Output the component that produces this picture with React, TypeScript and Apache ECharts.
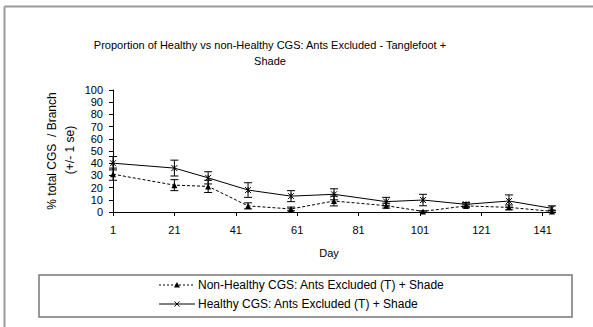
import React, { useEffect, useRef } from "react";
import * as echarts from "echarts";

const days = [1, 21, 32, 45, 59, 73, 90, 102, 116, 130, 144];
const healthy = [40, 36, 28, 18, 13, 14.5, 8.5, 9.8, 6.3, 9, 3];
const healthySe = [5.5, 6.5, 5, 6, 4.5, 4.5, 3.5, 4.7, 1.5, 5, 2];
const nonHealthy = [31, 22, 21, 5, 2.5, 9, 5.2, 0.5, 5, 3.8, 0.5];
const nonHealthySe = [5, 4.5, 5, 2.5, 1.5, 4, 2, 0.5, 1.5, 2, 1];
const xTicks = [1, 21, 41, 61, 81, 101, 121, 141];

const titleText = "Proportion of Healthy vs non-Healthy CGS: Ants Excluded - Tanglefoot +\nShade";
const yName1 = "% total CGS  / Branch";
const yName2 = "(+/- 1 se)";
const xName = "Day";
const legendNon = "Non-Healthy CGS: Ants Excluded (T) + Shade";
const legendHealthy = "Healthy CGS: Ants Excluded (T) + Shade";

const FONT = "Liberation Sans, Arial, sans-serif";
const STAR = "path://M0,0L10,10M10,0L0,10M5,0L5,10";

function errorSeries(vals: number[], se: number[]) {
  return {
    type: "custom",
    silent: true,
    z: 3,
    data: days.map((d, i) => [d, vals[i] - se[i], vals[i] + se[i]]),
    renderItem: (params: any, api: any) => {
      const x = api.value(0);
      const lo = api.coord([x, api.value(1)]);
      const hi = api.coord([x, api.value(2)]);
      const w = 4;
      const st = { stroke: "#000", lineWidth: 1 };
      return {
        type: "group",
        children: [
          { type: "line", shape: { x1: lo[0], y1: lo[1], x2: hi[0], y2: hi[1] }, style: st },
          { type: "line", shape: { x1: lo[0] - w, y1: lo[1], x2: lo[0] + w, y2: lo[1] }, style: st },
          { type: "line", shape: { x1: hi[0] - w, y1: hi[1], x2: hi[0] + w, y2: hi[1] }, style: st },
        ],
      };
    },
  };
}

export default function App() {
  const ref = useRef<HTMLDivElement>(null);
  useEffect(() => {
    if (!ref.current) return;
    const chart = echarts.init(ref.current, null, { renderer: "svg" });
    const lx1 = 159, lx2 = 195, lm = 177, ly1 = 285, ly2 = 304;
    chart.setOption({
      animation: false,
      backgroundColor: "#fff",
      grid: { left: 113, top: 90, right: 38, bottom: 115 },
      xAxis: {
        type: "value",
        min: 1,
        max: 145,
        axisLine: { lineStyle: { color: "#000", width: 1 } },
        axisTick: { show: true, length: 4, inside: false, customValues: xTicks, lineStyle: { color: "#000" } },
        axisLabel: { customValues: xTicks, color: "#000", fontSize: 11, fontFamily: FONT, margin: 12 },
        splitLine: { show: false },
      },
      yAxis: {
        type: "value",
        min: 0,
        max: 100,
        interval: 10,
        axisLine: { show: true, lineStyle: { color: "#000", width: 1 } },
        axisTick: { show: true, length: 4, lineStyle: { color: "#000" } },
        axisLabel: { color: "#000", fontSize: 11, fontFamily: FONT, margin: 10 },
        splitLine: { show: false },
      },
      graphic: [
        { type: "line", shape: { x1: 4.5, y1: 6.5, x2: 593, y2: 6.5 }, style: { stroke: "#9a9a9a", lineWidth: 2 } },
        { type: "line", shape: { x1: 4.5, y1: 6.5, x2: 4.5, y2: 327 }, style: { stroke: "#9a9a9a", lineWidth: 2 } },
        {
          type: "text", x: 270, y: 37,
          style: { text: titleText, textAlign: "center", font: `11px ${FONT}`, lineHeight: 16, fill: "#000" },
        },
        {
          type: "text", x: 52, y: 151, rotation: Math.PI / 2,
          style: { text: yName1, textAlign: "center", textVerticalAlign: "middle", font: `12px ${FONT}`, fill: "#000" },
        },
        {
          type: "text", x: 70, y: 150, rotation: Math.PI / 2,
          style: { text: yName2, textAlign: "center", textVerticalAlign: "middle", font: `12px ${FONT}`, fill: "#000" },
        },
        {
          type: "text", x: 329, y: 253,
          style: { text: xName, textAlign: "center", textVerticalAlign: "middle", font: `11px ${FONT}`, fill: "#000" },
        },
        { type: "rect", shape: { x: 39, y: 275, width: 533, height: 42 }, style: { fill: "none", stroke: "#777", lineWidth: 1.5 } },
        { type: "line", shape: { x1: lx1, y1: ly1, x2: lx2, y2: ly1 }, style: { stroke: "#000", lineWidth: 1, lineDash: [2, 2] } },
        { type: "polygon", shape: { points: [[lm - 3, ly1 + 2.5], [lm + 3, ly1 + 2.5], [lm, ly1 - 3]] }, style: { fill: "#000" } },
        { type: "text", x: 198, y: ly1, style: { text: legendNon, textVerticalAlign: "middle", font: `12px ${FONT}`, fill: "#000" } },
        { type: "line", shape: { x1: lx1, y1: ly2, x2: lx2, y2: ly2 }, style: { stroke: "#000", lineWidth: 1 } },
        { type: "line", shape: { x1: lm - 2.5, y1: ly2 - 2.5, x2: lm + 2.5, y2: ly2 + 2.5 }, style: { stroke: "#000", lineWidth: 1 } },
        { type: "line", shape: { x1: lm + 2.5, y1: ly2 - 2.5, x2: lm - 2.5, y2: ly2 + 2.5 }, style: { stroke: "#000", lineWidth: 1 } },
        { type: "text", x: 198, y: ly2, style: { text: legendHealthy, textVerticalAlign: "middle", font: `12px ${FONT}`, fill: "#000" } },
      ],
      series: [
        {
          name: legendNon,
          type: "line",
          data: days.map((d, i) => [d, nonHealthy[i]]),
          symbol: "triangle",
          symbolSize: 6,
          itemStyle: { color: "#000" },
          lineStyle: { color: "#000", width: 1, type: [3, 2] },
          z: 4,
        },
        {
          name: legendHealthy,
          type: "line",
          data: days.map((d, i) => [d, healthy[i]]),
          symbol: STAR,
          symbolSize: 6,
          itemStyle: { color: "#000", borderColor: "#000", borderWidth: 1 },
          lineStyle: { color: "#000", width: 1 },
          z: 4,
        },
        errorSeries(nonHealthy, nonHealthySe),
        errorSeries(healthy, healthySe),
      ],
    });
    return () => chart.dispose();
  }, []);
  return <div ref={ref} style={{ position: "fixed", left: 0, top: 0, width: 593, height: 327 }} />;
}
